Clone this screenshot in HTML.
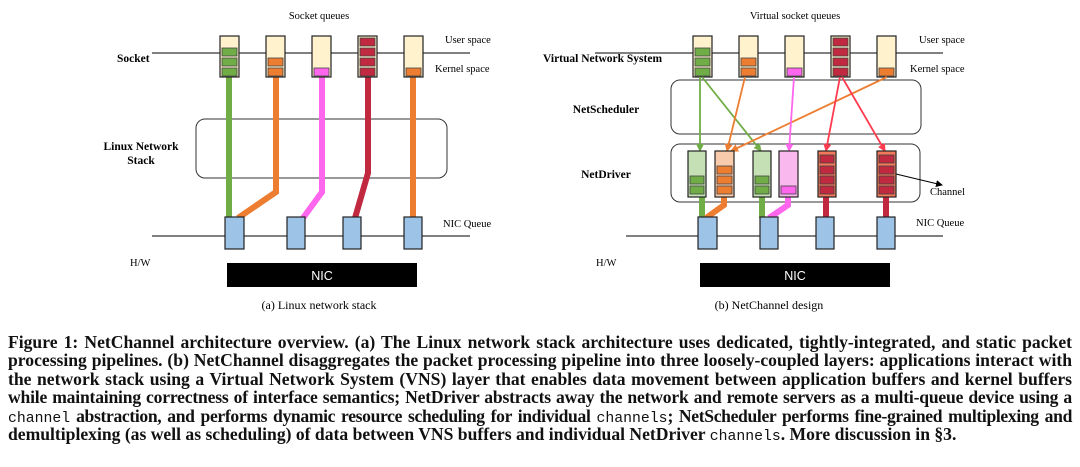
<!DOCTYPE html>
<html><head><meta charset="utf-8"><style>
body{margin:0;background:#fff;width:1080px;height:467px;overflow:hidden}
svg{position:absolute;left:0;top:0}
.cap{position:absolute;left:8px;width:1064px;top:333px;font-family:"Liberation Serif",serif;font-weight:bold;font-size:17.6px;line-height:18.4px;color:#111}
.cap div{text-align:justify;text-align-last:justify;white-space:nowrap;height:18.4px}
.cap div.l{text-align-last:left}
.cap div.t4{letter-spacing:-0.2px}
.cap div.t5{letter-spacing:-0.35px}
.m{font-family:"Liberation Mono",monospace;font-weight:normal;font-size:14.8px;letter-spacing:0;line-height:0}
</style></head><body>
<svg width="1080" height="330" viewBox="0 0 1080 330" font-family="Liberation Serif, serif">
<defs>
<marker id="ag" markerWidth="8" markerHeight="8" refX="7" refY="4" orient="auto" markerUnits="userSpaceOnUse"><path d="M0,0 L8,4 L0,8z" fill="#70ad47"/></marker>
<marker id="ao" markerWidth="8" markerHeight="8" refX="7" refY="4" orient="auto" markerUnits="userSpaceOnUse"><path d="M0,0 L8,4 L0,8z" fill="#ed7d31"/></marker>
<marker id="ap" markerWidth="8" markerHeight="8" refX="7" refY="4" orient="auto" markerUnits="userSpaceOnUse"><path d="M0,0 L8,4 L0,8z" fill="#ff66ee"/></marker>
<marker id="ar" markerWidth="8" markerHeight="8" refX="7" refY="4" orient="auto" markerUnits="userSpaceOnUse"><path d="M0,0 L8,4 L0,8z" fill="#ff3b50"/></marker>
<marker id="ak" markerWidth="7" markerHeight="7" refX="6" refY="3.5" orient="auto" markerUnits="userSpaceOnUse"><path d="M0,0 L7,3.5 L0,7z" fill="#000"/></marker>
</defs>
<text x="319" y="19" font-size="10.5" text-anchor="middle">Socket queues</text>
<line x1="152" y1="53" x2="470" y2="53" stroke="#000" stroke-width="1"/>
<line x1="152" y1="236" x2="470" y2="236" stroke="#000" stroke-width="1"/>
<text x="445" y="43" font-size="10.5">User space</text>
<text x="435" y="72" font-size="10.5">Kernel space</text>
<text x="117" y="62" font-size="11.5" font-weight="bold">Socket</text>
<text x="141" y="150" font-size="11.5" font-weight="bold" text-anchor="middle">Linux Network</text>
<text x="141" y="164" font-size="11.5" font-weight="bold" text-anchor="middle">Stack</text>
<text x="443" y="227" font-size="10.5">NIC Queue</text>
<text x="130" y="266" font-size="10.5">H/W</text>
<rect x="196" y="119" width="251" height="59" rx="9" fill="none" stroke="#333" stroke-width="1"/>
<g fill="none" stroke-width="6" stroke-linejoin="miter">
<polyline points="229,77 229,218" stroke="#70ad47"/>
<polyline points="276,77 276,192 238,218" stroke="#ed7d31"/>
<polyline points="322,77 322,192 303,218" stroke="#ff66ee"/>
<polyline points="368,77 368,173 355,218" stroke="#c0293f"/>
<polyline points="413,77 413,218" stroke="#ed7d31"/>
</g>
<g stroke="#222" stroke-width="1.2">
<rect x="220" y="36" width="19" height="41" fill="#fff2cc"/>
<rect x="266" y="36" width="19" height="41" fill="#fff2cc"/>
<rect x="312" y="36" width="19" height="41" fill="#fff2cc"/>
<rect x="358" y="36" width="19" height="41" fill="#fff2cc"/>
<rect x="404" y="36" width="19" height="41" fill="#fff2cc"/>
</g>
<g stroke="#444" stroke-width="0.8">
<rect x="222" y="48" width="15" height="8" fill="#70ad47"/><rect x="222" y="58" width="15" height="8" fill="#70ad47"/><rect x="222" y="68" width="15" height="8" fill="#70ad47"/>
<rect x="268" y="58" width="15" height="8" fill="#ed7d31"/><rect x="268" y="68" width="15" height="8" fill="#ed7d31"/>
<rect x="314" y="68" width="15" height="8" fill="#ff66ee"/>
<rect x="360" y="38" width="15" height="8" fill="#c0293f"/><rect x="360" y="48" width="15" height="8" fill="#c0293f"/><rect x="360" y="58" width="15" height="8" fill="#c0293f"/><rect x="360" y="68" width="15" height="8" fill="#c0293f"/>
<rect x="406" y="68" width="15" height="8" fill="#ed7d31"/>
</g>
<g fill="#9dc3e6" stroke="#222" stroke-width="1.2">
<rect x="225" y="217" width="19" height="32"/><rect x="287" y="217" width="18" height="32"/><rect x="343" y="217" width="18" height="32"/><rect x="404" y="217" width="18" height="32"/>
</g>
<rect x="227" y="263" width="190" height="24" fill="#000"/>
<text x="322" y="280" font-family="Liberation Sans, sans-serif" font-size="12.5" fill="#fff" text-anchor="middle">NIC</text>
<text x="319" y="309" font-size="12" text-anchor="middle">(a)  Linux network stack</text>

<text x="795" y="19" font-size="10.5" text-anchor="middle">Virtual socket queues</text>
<line x1="595" y1="53" x2="943" y2="53" stroke="#000" stroke-width="1"/>
<line x1="626" y1="236" x2="943" y2="236" stroke="#000" stroke-width="1"/>
<text x="919" y="43" font-size="10.5">User space</text>
<text x="910" y="72" font-size="10.5">Kernel space</text>
<text x="543" y="62" font-size="11.5" font-weight="bold">Virtual Network System</text>
<text x="606" y="113" font-size="11.5" font-weight="bold" text-anchor="middle">NetScheduler</text>
<text x="606" y="178" font-size="11.5" font-weight="bold" text-anchor="middle">NetDriver</text>
<text x="916" y="226" font-size="10.5">NIC Queue</text>
<text x="596" y="266" font-size="10.5">H/W</text>
<text x="930" y="195" font-size="10.5">Channel</text>
<rect x="671" y="80" width="250" height="54" rx="9" fill="none" stroke="#333" stroke-width="1"/>
<rect x="671" y="144" width="249" height="58" rx="9" fill="none" stroke="#333" stroke-width="1"/>
<g fill="none" stroke-width="6">
<polyline points="702,197 702,218" stroke="#70ad47"/>
<polyline points="724,197 724,205 706,218" stroke="#ed7d31"/>
<polyline points="762,197 762,218" stroke="#70ad47"/>
<polyline points="788,197 788,205 769,218" stroke="#ff66ee"/>
<polyline points="826,197 826,218" stroke="#c0293f"/>
<polyline points="886,197 886,218" stroke="#c0293f"/>
</g>
<g stroke="#222" stroke-width="1.2">
<rect x="693" y="36" width="19" height="41" fill="#fff2cc"/>
<rect x="739" y="36" width="19" height="41" fill="#fff2cc"/>
<rect x="785" y="36" width="19" height="41" fill="#fff2cc"/>
<rect x="831" y="36" width="19" height="41" fill="#fff2cc"/>
<rect x="877" y="36" width="19" height="41" fill="#fff2cc"/>
</g>
<g stroke="#444" stroke-width="0.8">
<rect x="695" y="48" width="15" height="8" fill="#70ad47"/><rect x="695" y="58" width="15" height="8" fill="#70ad47"/><rect x="695" y="68" width="15" height="8" fill="#70ad47"/>
<rect x="741" y="58" width="15" height="8" fill="#ed7d31"/><rect x="741" y="68" width="15" height="8" fill="#ed7d31"/>
<rect x="787" y="68" width="15" height="8" fill="#ff66ee"/>
<rect x="833" y="38" width="15" height="8" fill="#c0293f"/><rect x="833" y="48" width="15" height="8" fill="#c0293f"/><rect x="833" y="58" width="15" height="8" fill="#c0293f"/><rect x="833" y="68" width="15" height="8" fill="#c0293f"/>
<rect x="879" y="68" width="15" height="8" fill="#ed7d31"/>
</g>
<g stroke-width="1.8" fill="none">
<line x1="700" y1="77" x2="700" y2="151" stroke="#70ad47" marker-end="url(#ag)"/>
<line x1="702" y1="77" x2="761" y2="151" stroke="#70ad47" marker-end="url(#ag)"/>
<line x1="745" y1="77" x2="727" y2="151" stroke="#ed7d31" marker-end="url(#ao)"/>
<line x1="887" y1="77" x2="731" y2="151" stroke="#ed7d31" marker-end="url(#ao)"/>
<line x1="794" y1="77" x2="789" y2="151" stroke="#ff66ee" marker-end="url(#ap)"/>
<line x1="840" y1="77" x2="826" y2="151" stroke="#ff3b50" marker-end="url(#ar)"/>
<line x1="842" y1="77" x2="885" y2="151" stroke="#ff3b50" marker-end="url(#ar)"/>
<line x1="896" y1="174" x2="942" y2="185" stroke="#000" stroke-width="1" marker-end="url(#ak)"/>
</g>
<g stroke="#222" stroke-width="1.2">
<rect x="688" y="151" width="18" height="46" fill="#c5e0b4"/>
<rect x="715" y="151" width="19" height="46" fill="#f8cbad"/>
<rect x="753" y="151" width="18" height="46" fill="#c5e0b4"/>
<rect x="779" y="151" width="19" height="46" fill="#f9b8ee"/>
<rect x="818" y="151" width="18" height="46" fill="#f4785a"/>
<rect x="877" y="151" width="19" height="46" fill="#f4785a"/>
</g>
<g stroke="#444" stroke-width="0.8">
<rect x="690" y="176" width="14" height="8" fill="#70ad47"/><rect x="690" y="186" width="14" height="8" fill="#70ad47"/>
<rect x="717" y="166" width="15" height="8" fill="#ed7d31"/><rect x="717" y="176" width="15" height="8" fill="#ed7d31"/><rect x="717" y="186" width="15" height="8" fill="#ed7d31"/>
<rect x="755" y="176" width="14" height="8" fill="#70ad47"/><rect x="755" y="186" width="14" height="8" fill="#70ad47"/>
<rect x="781" y="186" width="15" height="8" fill="#ff66ee"/>
<rect x="820" y="155" width="14" height="8" fill="#c0293f"/><rect x="820" y="166" width="14" height="8" fill="#c0293f"/><rect x="820" y="176" width="14" height="8" fill="#c0293f"/><rect x="820" y="186" width="14" height="8" fill="#c0293f"/>
<rect x="879" y="155" width="15" height="8" fill="#c0293f"/><rect x="879" y="166" width="15" height="8" fill="#c0293f"/><rect x="879" y="176" width="15" height="8" fill="#c0293f"/><rect x="879" y="186" width="15" height="8" fill="#c0293f"/>
</g>
<g fill="#9dc3e6" stroke="#222" stroke-width="1.2">
<rect x="698" y="217" width="19" height="32"/><rect x="760" y="217" width="18" height="32"/><rect x="816" y="217" width="18" height="32"/><rect x="877" y="217" width="18" height="32"/>
</g>
<rect x="700" y="263" width="190" height="24" fill="#000"/>
<text x="795" y="280" font-family="Liberation Sans, sans-serif" font-size="12.5" fill="#fff" text-anchor="middle">NIC</text>
<text x="769" y="309" font-size="12" text-anchor="middle">(b)  NetChannel design</text>
</svg>
<div class="cap">
<div>Figure 1: NetChannel architecture overview. (a) The Linux network stack architecture uses dedicated, tightly-integrated, and static packet</div>
<div>processing pipelines. (b) NetChannel disaggregates the packet processing pipeline into three loosely-coupled layers: applications interact with</div>
<div>the network stack using a Virtual Network System (VNS) layer that enables data movement between application buffers and kernel buffers</div>
<div class="t4">while maintaining correctness of interface semantics; NetDriver abstracts away the network and remote servers as a multi-queue device using a</div>
<div class="t5"><span class="m">channel</span> abstraction, and performs dynamic resource scheduling for individual <span class="m">channels</span>; NetScheduler performs fine-grained multiplexing and</div>
<div class="l">demultiplexing (as well as scheduling) of data between VNS buffers and individual NetDriver <span class="m">channels</span>. More discussion in §3.</div>
</div>
</body></html>
